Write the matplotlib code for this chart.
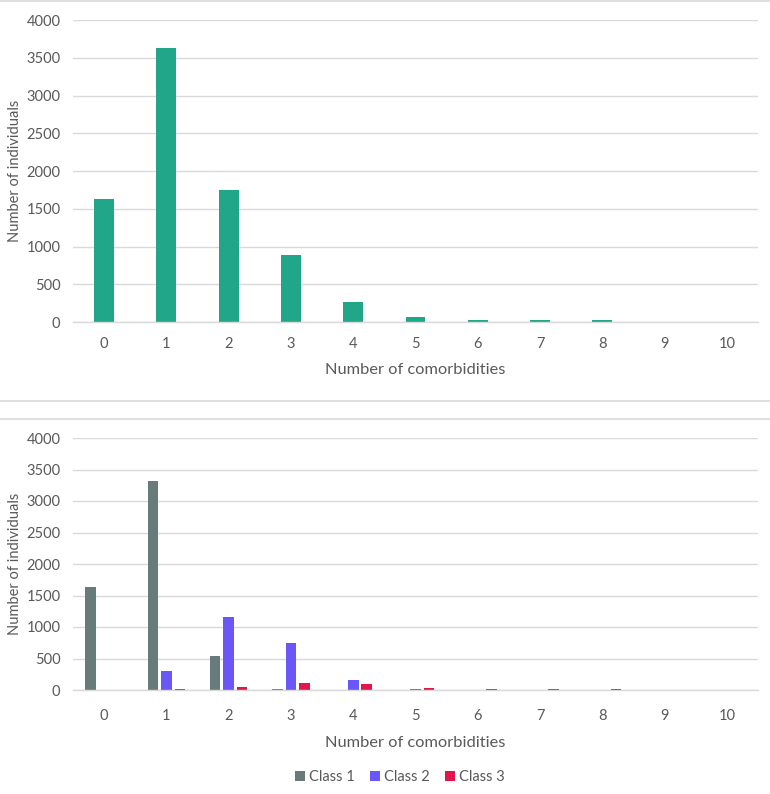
import numpy as np
import matplotlib
matplotlib.use("Agg")
import matplotlib.pyplot as plt
from matplotlib.patches import Patch
from matplotlib.lines import Line2D

# data
comorbidities = ["0", "1", "2", "3", "4", "5", "6", "7", "8", "9", "10"]
class_names = ["Class 1", "Class 2", "Class 3"]
class1 = [1635, 3320, 540, 15, 0, 0, 0, 0, 0, 0, 0]
class2 = [0, 305, 1160, 750, 160, 20, 0, 0, 0, 0, 0]
class3 = [0, 20, 40, 115, 95, 35, 20, 20, 20, 0, 0]
total = [1635, 3630, 1750, 890, 265, 66, 20, 20, 20, 0, 0]
yticks = [0, 500, 1000, 1500, 2000, 2500, 3000, 3500, 4000]

teal = "#21A68A"
class_colors = ["#687B7B", "#6B57F5", "#E3164B"]
text_col = "#595959"
grid_col = "#D9D9D9"

plt.rcParams["font.family"] = ["Lato", "DejaVu Sans"]

W, H = 770, 794
fig = plt.figure(figsize=(W / 100, H / 100), dpi=100)


def px_axes(left, top, right, bottom):
    return fig.add_axes([left / W, 1 - bottom / H, (right - left) / W, (bottom - top) / H])


def style(ax, tick_pad, label_pad):
    for s in ["top", "left", "right"]:
        ax.spines[s].set_visible(False)
    ax.spines["bottom"].set_color(grid_col)
    ax.spines["bottom"].set_linewidth(1)
    ax.set_ylim(0, 4000)
    ax.set_yticks(yticks)
    ax.set_xlim(-0.5, len(comorbidities) - 0.5)
    ax.set_xticks(np.arange(len(comorbidities)))
    ax.set_xticklabels(comorbidities)
    ax.yaxis.grid(True, color=grid_col, linewidth=1)
    ax.set_axisbelow(True)
    ax.tick_params(axis="both", length=0, labelsize=10.5, colors=text_col)
    ax.tick_params(axis="x", pad=tick_pad)
    ax.tick_params(axis="y", pad=9)
    ax.set_ylabel("Number of individuals", fontsize=10.5, color=text_col)
    ax.yaxis.set_label_coords(-0.075, 0.5)
    ax.set_xlabel("Number of comorbidities", fontsize=11.8, color=text_col, labelpad=label_pad)


x = np.arange(len(comorbidities))

# top chart: all individuals
ax1 = px_axes(73, 20, 758, 322)
ax1.bar(x, total, width=0.32, color=teal)
style(ax1, 11, 8.5)

# bottom chart: by class
ax2 = px_axes(73, 438, 758, 690)
bw = 0.17
step = 0.217
series = [class1, class2, class3]
for i, vals in enumerate(series):
    ax2.bar(x + (i - 1) * step, vals, width=bw, color=class_colors[i])
style(ax2, 14, 9)

handles = [Patch(facecolor=c, edgecolor="none") for c in class_colors]
fig.legend(handles, class_names, loc="center", bbox_to_anchor=(400 / W, 1 - 777 / H),
           ncol=3, frameon=False, fontsize=10.5, labelcolor=text_col,
           handlelength=0.7, handleheight=0.7, handletextpad=0.3, columnspacing=1.0)

# chart frame separators
for yy in [1, 401, 419]:
    fig.add_artist(Line2D([0, 1], [1 - yy / H, 1 - yy / H], transform=fig.transFigure,
                          color=grid_col, linewidth=1.2))

fig.savefig("out.png", dpi=100)
